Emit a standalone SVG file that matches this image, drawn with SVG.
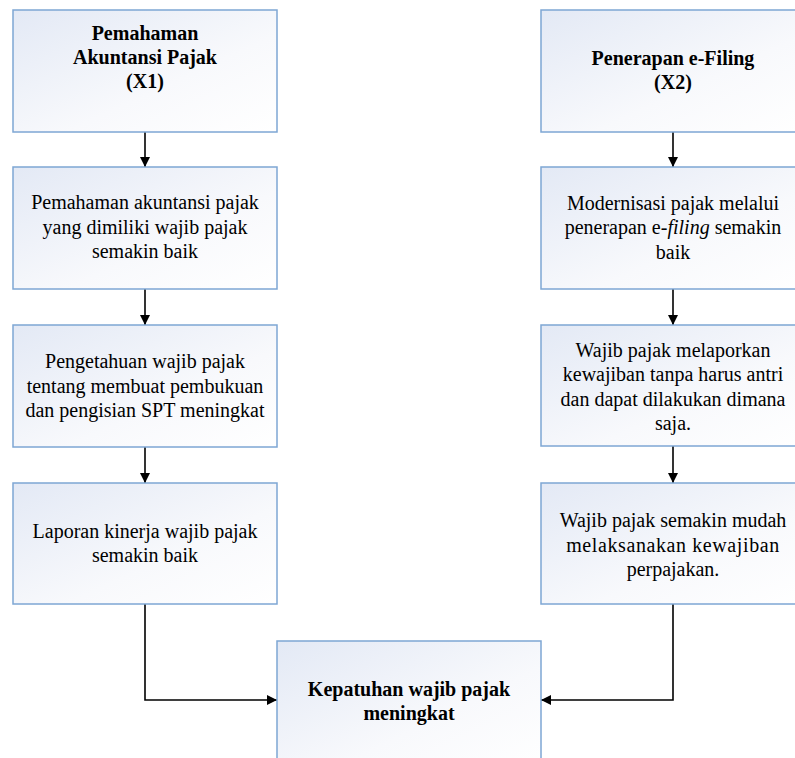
<svg xmlns="http://www.w3.org/2000/svg" width="795" height="758" viewBox="0 0 795 758">
<defs>
<linearGradient id="g" x1="0" y1="0" x2="1" y2="1">
<stop offset="0" stop-color="#e3e9f5"/>
<stop offset="0.6" stop-color="#f8f9fc"/>
<stop offset="1" stop-color="#ffffff"/>
</linearGradient>
<marker id="ah" viewBox="0 0 10 10" refX="10" refY="5" markerWidth="10" markerHeight="10" markerUnits="userSpaceOnUse" orient="auto">
<path d="M0,0 L10,5 L0,10 Z" fill="#000"/>
</marker>
<style>
.box{fill:url(#g);stroke:#7ea6d4;stroke-width:1.5}
text{font-family:'Liberation Serif','Times New Roman','DejaVu Serif',serif;font-size:20px;fill:#000;text-anchor:middle}
.b{font-weight:bold}
.c{fill:none;stroke:#000;stroke-width:1.6;marker-end:url(#ah)}
</style>
</defs>
<rect width="795" height="758" fill="#fff"/>
<g id="connectors">
<path class="c" d="M145,132 V167"/>
<path class="c" d="M145,289 V325"/>
<path class="c" d="M145,447 V483"/>
<path class="c" d="M145,604 V700 H277"/>
<path class="c" d="M673,132 V167"/>
<path class="c" d="M673,289 V325"/>
<path class="c" d="M673,446 V483"/>
<path class="c" d="M673,604 V700 H541"/>
</g>
<g id="x1">
<rect class="box" x="13" y="10" width="264" height="122"/>
<text class="b" x="145" y="40">Pemahaman</text>
<text class="b" x="145" y="64">Akuntansi Pajak</text>
<text class="b" x="145" y="88">(X1)</text>
</g>
<g id="l2">
<rect class="box" x="13" y="167" width="264" height="122"/>
<text x="145" y="209">Pemahaman akuntansi pajak</text>
<text x="145" y="234">yang dimiliki wajib pajak</text>
<text x="145" y="258">semakin baik</text>
</g>
<g id="l3">
<rect class="box" x="13" y="325" width="264" height="122"/>
<text x="145" y="368">Pengetahuan wajib pajak</text>
<text x="145" y="393">tentang membuat pembukuan</text>
<text x="145" y="417">dan pengisian SPT meningkat</text>
</g>
<g id="l4">
<rect class="box" x="13" y="483" width="264" height="121"/>
<text x="145" y="538">Laporan kinerja wajib pajak</text>
<text x="145" y="562">semakin baik</text>
</g>
<g id="x2">
<rect class="box" x="541" y="10" width="264" height="122"/>
<text class="b" x="673" y="65">Penerapan e-Filing</text>
<text class="b" x="673" y="89">(X2)</text>
</g>
<g id="r2">
<rect class="box" x="541" y="167" width="264" height="122"/>
<text x="673" y="210">Modernisasi pajak melalui</text>
<text x="673" y="234">penerapan e-<tspan font-style="italic">filing</tspan> semakin</text>
<text x="673" y="259">baik</text>
</g>
<g id="r3">
<rect class="box" x="541" y="325" width="264" height="121"/>
<text x="673" y="357">Wajib pajak melaporkan</text>
<text x="673" y="381">kewajiban tanpa harus antri</text>
<text x="673" y="406">dan dapat dilakukan dimana</text>
<text x="673" y="430">saja.</text>
</g>
<g id="r4">
<rect class="box" x="541" y="483" width="264" height="121"/>
<text x="673" y="527">Wajib pajak semakin mudah</text>
<text x="673" y="552" letter-spacing="0.6">melaksanakan kewajiban</text>
<text x="673" y="576">perpajakan.</text>
</g>
<g id="y">
<rect class="box" x="277" y="641" width="264" height="130"/>
<text class="b" x="409" y="696">Kepatuhan wajib pajak</text>
<text class="b" x="409" y="720">meningkat</text>
</g>
</svg>
